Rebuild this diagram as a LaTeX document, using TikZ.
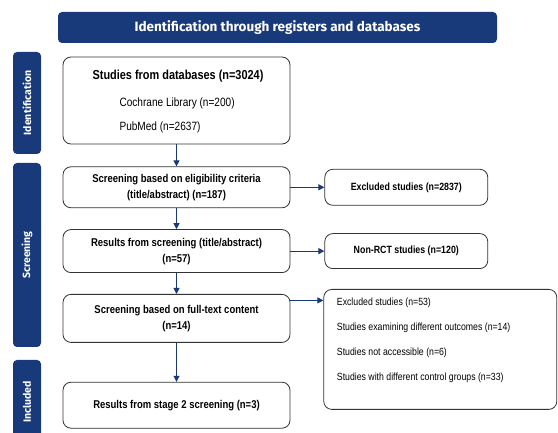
\documentclass[tikz,border=0pt]{standalone}
\usepackage{fontspec}
\setmainfont{Liberation Sans}[FakeStretch=0.84]
\newfontfamily\headfont{Fira Sans}
\usetikzlibrary{arrows.meta}
\usetikzlibrary{positioning}
\definecolor{navy}{RGB}{24,58,122}

\begin{document}
\begin{tikzpicture}[x=1pt, y=-1pt,
    bar/.style={fill=navy, rounded corners=4pt, text=white, font=\headfont\bfseries},
    box/.style={draw=black!80, line width=0.8pt, rounded corners=8pt, fill=white, align=center,
        minimum width=227pt, font=\bfseries\fontsize{11.3}{16}\selectfont},
    sidebox/.style={box, minimum width=163pt, font=\bfseries\fontsize{10.5}{12}\selectfont},
    flow/.style={draw=navy, line width=1pt, -{Triangle[width=6pt,length=6pt]}}]
    \clip (0,0) rectangle (558,433);

    % banner and the three stage tabs
    \node (head) [bar, minimum width=439pt, minimum height=31pt] at (277.5,27.5)
        {\fontsize{13.5}{15}\selectfont Identification through registers and databases};
    \node (idtab) [bar, rotate=90, minimum width=102pt, minimum height=28pt] at (27,103)
        {\fontsize{10.5}{12}\selectfont Identification};
    \node (scrtab) [bar, rotate=90, minimum width=184pt, minimum height=28pt] at (27,255)
        {\fontsize{10.5}{12}\selectfont Screening};
    \node (inctab) [bar, rotate=90, minimum width=84pt, minimum height=28pt] at (27,402)
        {\fontsize{10.5}{12}\selectfont Included};

    % left column
    \node (db) [box, minimum height=87pt] at (176.5,100.5) {};
    \node (dbtitle) [font=\bfseries\fontsize{13}{15}\selectfont] at (178,76) {Studies from databases (n=3024)};
    \node (cochrane) [anchor=west, font=\fontsize{12}{14}\selectfont] at (116,103) {Cochrane Library (n=200)};
    \node (pubmed) [anchor=west, font=\fontsize{12}{14}\selectfont] at (116,127) {PubMed (n=2637)};

    \node (elig) [box, minimum height=41pt, below=22pt of db]
        {Screening based on eligibility criteria\\(title/abstract) (n=187)};
    \node (res) [box, minimum height=43pt, below=21pt of elig]
        {Results from screening (title/abstract)\\(n=57)};
    \node (full) [box, minimum height=48pt, below=21pt of res]
        {Screening based on full-text content\\(n=14)};
    \node (final) [box, minimum height=46pt, below=39pt of full]
        {Results from stage 2 screening (n=3)};

    % right column
    \node (excl) [sidebox, minimum height=36pt, right=34pt of elig] {Excluded studies (n=2837)};
    \node (nonrct) [sidebox, minimum height=35pt, right=34pt of res] {Non-RCT studies (n=120)};
    \node (other) [box, minimum width=233pt, minimum height=120pt,
        right=33pt of full.north east, anchor=north west, yshift=5pt] {};
    \node (reasons) [below right=5pt and 10pt of other.north west, align=left,
        font=\fontsize{10.4}{12}\selectfont]
        {Excluded studies (n=53)\\[13pt]
         Studies examining different outcomes (n=14)\\[13pt]
         Studies not accessible (n=6)\\[13pt]
         Studies with different control groups (n=33)};

    \draw[flow] (db) -- (elig);
    \draw[flow] (elig) -- (res);
    \draw[flow] (res) -- (full);
    \draw[flow] (full) -- (final);
    \draw[flow] (elig) -- (excl);
    \draw[flow] (res) -- (nonrct);
    \draw[flow] ([yshift=18pt]full.east) -- ([yshift=18pt]full.east -| other.west);
\end{tikzpicture}
\end{document}
